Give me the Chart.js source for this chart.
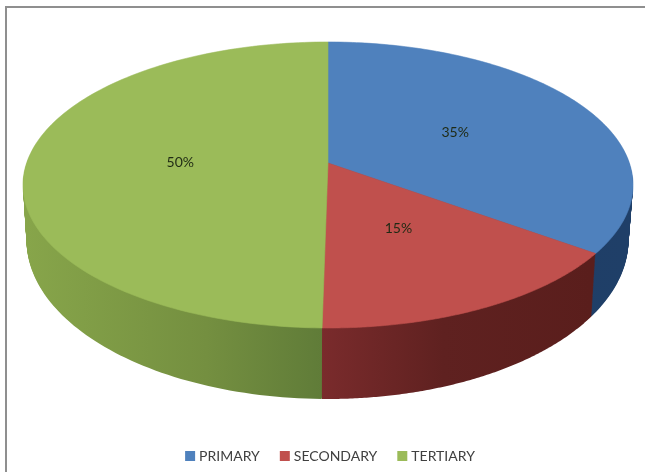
<!DOCTYPE html>
<html>
<head>
<meta charset="utf-8">
<style>html,body{margin:0;padding:0;background:#fff}canvas{display:block}</style>
<script src="https://cdn.jsdelivr.net/npm/chart.js@4"></script>
</head>
<body>
<canvas id="c" width="645" height="472"></canvas>
<script>
const categories = ['PRIMARY', 'SECONDARY', 'TERTIARY'];
const shares = [35, 15, 50];
const topColors = ['#4f81bd', '#c0504d', '#9bbb59'];

// Look of the tilted disc: top face, bottom rim and the perspective shift of the centre
const face = {cx: 328, cy: 185, rx: 305, ry: 143};
const rim = {cx: 327.5, cy: 240, rx: 301, ry: 159};
const tilt = -0.154;
const wallLayers = 70;
const wallStops = [
  [[0, '#1f3d63'], [1, '#1f3f68']],
  [[0, '#7a2b2c'], [0.45, '#5f2120'], [1, '#5a1e1c']],
  [[0, '#87a54a'], [0.6, '#748f40'], [1, '#5f7b38']]
];

function project(theta, r) {
  const warp = 0.0166 * Math.pow(Math.sin(theta / 2), 16);
  const t = theta + warp;
  const x = r * Math.sin(t), y = -r * Math.cos(t);
  const d = 1 + tilt * y;
  return {X: x * Math.sqrt(1 - tilt * tilt) / d, Y: (y + tilt) / d};
}
const onto = (e, p) => [e.cx + e.rx * p.X, e.cy + e.ry * p.Y];
const between = (a, b, k) => ({
  cx: a.cx + (b.cx - a.cx) * k, cy: a.cy + (b.cy - a.cy) * k,
  rx: a.rx + (b.rx - a.rx) * k, ry: a.ry + (b.ry - a.ry) * k
});

function wedge(ctx, e, s) {
  const n = 140;
  ctx.beginPath();
  const apex = onto(e, project(0, 0));
  ctx.moveTo(apex[0], apex[1]);
  for (let i = 0; i <= n; i++) {
    const p = onto(e, project(s[0] + (s[1] - s[0]) * i / n, 1));
    ctx.lineTo(p[0], p[1]);
  }
  ctx.closePath();
}

const discPlugin = {
  id: 'disc',
  beforeDraw(chart) {
    const ctx = chart.ctx;
    ctx.save();
    ctx.fillStyle = '#fff';
    ctx.fillRect(0, 0, chart.width, chart.height);
    ctx.fillStyle = '#8f8f8f';
    ctx.fillRect(5, 6, chart.width - 5, 2);
    ctx.fillRect(5, 6, 2, chart.height - 6);
    ctx.restore();
  },
  beforeDatasetsDraw(chart) {
    const ctx = chart.ctx;
    const arcs = chart.getDatasetMeta(0).data;
    const spans = arcs.map(a => [a.startAngle + Math.PI / 2, a.endAngle + Math.PI / 2]);
    ctx.save();
    const grads = spans.map((s, i) => {
      const xa = [];
      for (let t = 0; t <= 40; t++) xa.push(onto(rim, project(s[0] + (s[1] - s[0]) * t / 40, 1))[0]);
      const g = ctx.createLinearGradient(Math.min(...xa), 0, Math.max(...xa), 0);
      wallStops[i].forEach(st => g.addColorStop(st[0], st[1]));
      return g;
    });
    for (let k = 0; k < wallLayers; k++) {
      const e = between(rim, face, k / wallLayers);
      spans.forEach((s, i) => {
        wedge(ctx, e, s);
        ctx.fillStyle = grads[i];
        ctx.fill();
      });
    }
    spans.forEach((s, i) => {
      wedge(ctx, face, s);
      ctx.fillStyle = arcs[i].options.backgroundColor;
      ctx.strokeStyle = arcs[i].options.backgroundColor;
      ctx.lineWidth = 0.6;
      ctx.fill();
      ctx.stroke();
    });
    ctx.fillStyle = '#1f2a14';
    ctx.font = '14px Lato, "Open Sans", sans-serif';
    ctx.textAlign = 'center';
    ctx.textBaseline = 'middle';
    spans.forEach((s, i) => {
      const p = onto(face, project((s[0] + s[1]) / 2, 0.49));
      ctx.fillText(shares[i] + '%', p[0], p[1]);
    });
    ctx.restore();
    return false;
  }
};

new Chart(document.getElementById('c'), {
  type: 'pie',
  data: {
    labels: categories,
    datasets: [{data: shares, backgroundColor: topColors, borderWidth: 0}]
  },
  options: {
    responsive: false,
    animation: false,
    layout: {padding: {bottom: -1, left: 18}},
    plugins: {
      tooltip: {enabled: false},
      legend: {
        position: 'bottom',
        labels: {
          usePointStyle: true, pointStyle: 'rect',
          boxWidth: 4, boxHeight: 10, padding: 23,
          color: '#404040',
          font: {family: 'Lato, "Open Sans", sans-serif', size: 14}
        }
      }
    }
  },
  plugins: [discPlugin]
});
</script>
</body>
</html>
